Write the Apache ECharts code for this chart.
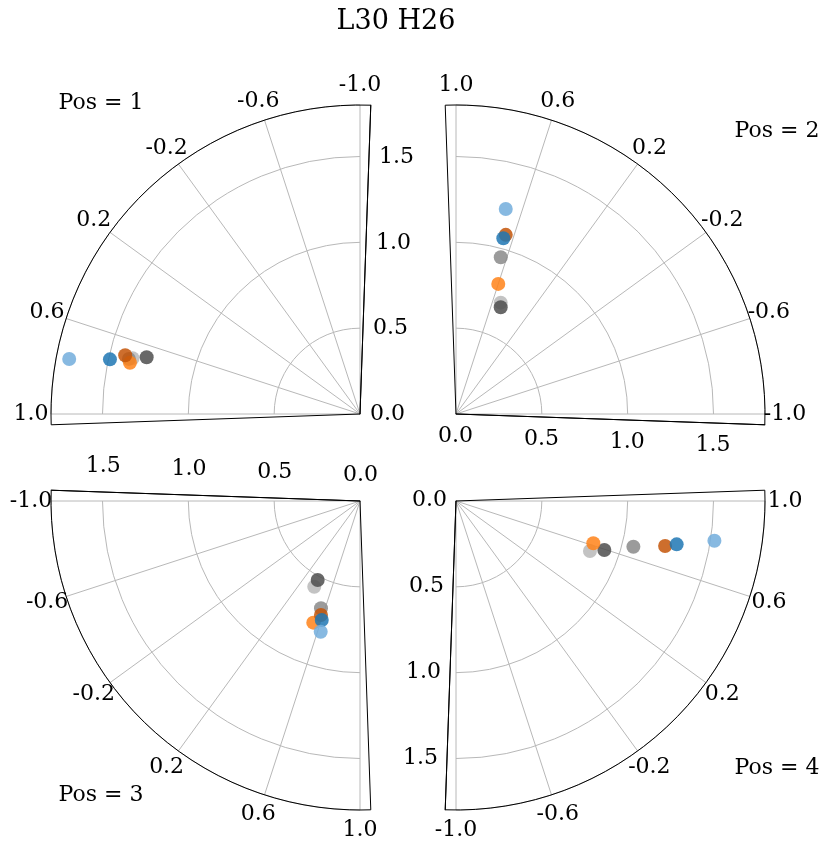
<!DOCTYPE html>
<html>
<head>
<meta charset="utf-8">
<script src="https://cdn.jsdelivr.net/npm/echarts@6/dist/echarts.min.js"></script>
<style>
  html, body { margin: 0; padding: 0; background: #fff; }
  #taylor { width: 831px; height: 851px; }
</style>
</head>
<body>
<div id="taylor"></div>
<script>
// each model: [std ratio, correlation] for Pos 1..4
var panelNames = ['Pos = 1', 'Pos = 2', 'Pos = 3', 'Pos = 4'];
var stdMax = 1.8;
var stdStep = 0.5;
var corrTicks = [-1.0, -0.6, -0.2, 0.2, 0.6, 1.0];

var lightBlue   = [[1.724, 0.762], [1.229, 0.697], [0.795, 0.628], [1.523, 0.806]];
var darkBlue    = [[1.491, 0.726], [1.060, 0.665], [0.728, 0.604], [1.310, 0.753]];
var darkOrange  = [[1.410, 0.688], [1.083, 0.655], [0.702, 0.580], [1.246, 0.730]];
var lightOrange = [[1.373, 0.721], [0.797, 0.600], [0.759, 0.533], [0.837, 0.620]];
var lightGray   = [[1.364, 0.694], [0.699, 0.514], [0.566, 0.376], [0.833, 0.545]];
var midGray     = [[1.384, 0.702], [0.950, 0.646], [0.665, 0.556], [1.067, 0.679]];
var darkGray    = [[1.286, 0.669], [0.674, 0.495], [0.522, 0.374], [0.910, 0.594]];

var models = [
  { data: lightGray,   color: '#b8b8b8' },
  { data: midGray,     color: '#8a8a8a' },
  { data: darkGray,    color: '#4e4e4e' },
  { data: lightOrange, color: '#ff8319' },
  { data: darkOrange,  color: '#c45508' },
  { data: darkBlue,    color: '#1f77b4' },
  { data: lightBlue,   color: '#72addc' }
];

// where each quarter sits on the page
var quarters = [
  { center: [360, 414], start: 90,  end: 180, label: [101, 103], margin: -10, align: 'left',   valign: 'middle' },
  { center: [456, 414], start: 0,   end: 90,  label: [777, 131], margin: -11, align: 'center', valign: 'top' },
  { center: [360, 501], start: 180, end: 270, label: [101, 795], margin: -15, align: 'center', valign: 'bottom' },
  { center: [456, 501], start: 270, end: 360, label: [777, 768], margin: -9,  align: 'right',  valign: 'middle' }
];

var font = 'DejaVu Serif';
var R = 309;
// correlation labels sit ~20px outside the arc, centred
var labelR = stdMax * (R + 20) / R;

var polar = [], angleAxis = [], radiusAxis = [], series = [], graphic = [];

// grid polars (0..3): gray grid and the points
quarters.forEach(function (q, i) {
  polar.push({ center: q.center, radius: R });
  angleAxis.push({
    polarIndex: i, type: 'value', min: -1, max: 1, interval: 0.4,
    startAngle: q.start, endAngle: q.end, clockwise: false,
    axisLine: { show: false }, axisTick: { show: false }, axisLabel: { show: false },
    splitLine: { show: true, lineStyle: { color: '#b8b8b8', width: 1 } }
  });
  radiusAxis.push({
    polarIndex: i, type: 'value', min: 0, max: stdMax, interval: stdStep,
    axisLine: { show: false }, axisTick: { show: false }, axisLabel: { show: false },
    splitLine: { show: true, lineStyle: { color: '#b8b8b8', width: 1 } }
  });
  // correlation tick labels
  series.push({
    type: 'scatter', coordinateSystem: 'polar', polarIndex: i,
    silent: true, clip: false, symbolSize: 0,
    itemStyle: { opacity: 1 },
    data: corrTicks.map(function (c) { return [labelR, c]; }),
    label: {
      show: true, position: 'inside', color: '#000', opacity: 1,
      textBorderWidth: 0, textBorderColor: 'transparent',
      fontFamily: font, fontSize: 22,
      formatter: function (p) { return p.value[1].toFixed(1); }
    }
  });
});

// frame polars (4..7): black outline a little wider than the grid, std labels
quarters.forEach(function (q, i) {
  polar.push({ center: q.center, radius: R });
  angleAxis.push({
    polarIndex: 4 + i, type: 'value', min: 0, max: 1, interval: 1,
    startAngle: q.start - 2, endAngle: q.end + 2, clockwise: false,
    axisLine: { show: true, lineStyle: { color: '#000', width: 1 } },
    axisTick: { show: false }, axisLabel: { show: false },
    splitLine: { show: true, lineStyle: { color: '#000', width: 1 } }
  });
  radiusAxis.push({
    polarIndex: 4 + i, type: 'value', min: 0, max: stdMax, interval: stdStep,
    axisLine: { show: true, lineStyle: { color: '#000', width: 1 } },
    axisTick: { show: false },
    axisLabel: {
      show: true, margin: q.margin, align: q.align, verticalAlign: q.valign,
      color: '#000', fontFamily: font, fontSize: 22,
      formatter: function (v) {
        return Math.abs(v / stdStep - Math.round(v / stdStep)) < 1e-6 ? v.toFixed(1) : '';
      }
    },
    splitLine: { show: false }
  });
  graphic.push({
    type: 'text', x: q.label[0], y: q.label[1],
    style: { text: panelNames[i], font: '22px "' + font + '"', fill: '#000', align: 'center', verticalAlign: 'middle' }
  });
});

graphic.push({
  type: 'text', x: 396, y: 22,
  style: { text: 'L30 H26', font: '27px "' + font + '"', fill: '#000', align: 'center', verticalAlign: 'middle' }
});

models.forEach(function (m) {
  m.data.forEach(function (pt, i) {
    series.push({
      type: 'scatter', coordinateSystem: 'polar', polarIndex: i,
      symbolSize: 14, data: [pt],
      itemStyle: { color: m.color, opacity: 0.85 }
    });
  });
});

var chart = echarts.init(document.getElementById('taylor'));
chart.setOption({
  animation: false,
  backgroundColor: '#fff',
  polar: polar,
  angleAxis: angleAxis,
  radiusAxis: radiusAxis,
  graphic: graphic,
  series: series
});
</script>
</body>
</html>
